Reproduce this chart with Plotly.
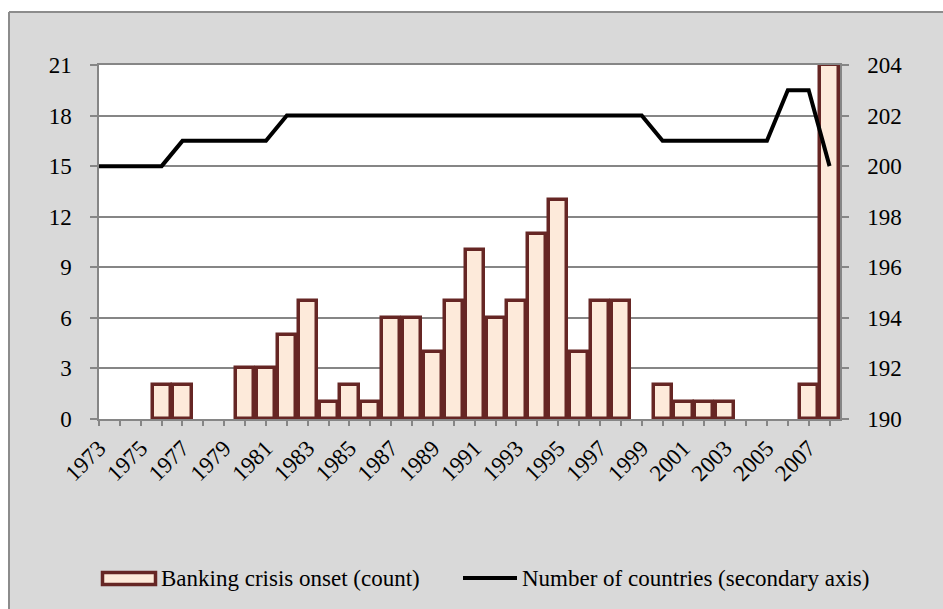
import plotly.graph_objects as go

years = list(range(1973, 2009))
crisis_onsets = [0, 0, 0, 2, 2, 0, 0, 3, 3, 5, 7, 1, 2, 1, 6, 6, 4, 7, 10, 6,
                 7, 11, 13, 4, 7, 7, 0, 2, 1, 1, 1, 0, 0, 0, 2, 21]
num_countries = [200, 200, 200, 200, 201, 201, 201, 201, 201, 202, 202, 202,
                 202, 202, 202, 202, 202, 202, 202, 202, 202, 202, 202, 202,
                 202, 202, 202, 201, 201, 201, 201, 201, 201, 203, 203, 200]
x_tick_labels = [str(y) if (y - 1973) % 2 == 0 else "" for y in years]
left_ticks = [0, 3, 6, 9, 12, 15, 18, 21]
right_ticks = [190, 192, 194, 196, 198, 200, 202, 204]

bar_name = "Banking crisis onset (count)"
line_name = "Number of countries (secondary axis)"

FONT = "Liberation Serif"
GRID = "#868686"
BAR_FILL = "#FDEADA"
BAR_LINE = "#662624"
BG = "#D9D9D9"

W, H = 943, 609
L, R, T, B = 99, 103, 65, 190
PW, PH = W - L - R, H - T - B


def px(x):
    return (x - L) / PW


def py(y):
    return (H - B - y) / PH


# zero counts draw no bar (as in the source chart)
bar_values = [v if v > 0 else None for v in crisis_onsets]

fig = go.Figure()
fig.add_trace(go.Bar(
    x=years, y=bar_values, name=bar_name, width=0.87, cliponaxis=False,
    marker=dict(color=BAR_FILL, line=dict(color=BAR_LINE, width=3.5)),
    showlegend=False, yaxis="y"))
fig.add_trace(go.Scatter(
    x=years, y=num_countries, name=line_name, mode="lines",
    line=dict(color="black", width=4), showlegend=False, yaxis="y2"))

fig.update_layout(
    width=W, height=H,
    margin=dict(l=L, r=R, t=T, b=B, pad=0),
    paper_bgcolor=BG, plot_bgcolor="white",
    font=dict(family=FONT, size=23, color="black"),
    bargap=0,
    xaxis=dict(
        range=[1973, 2008.5], tickmode="array", tickvals=years,
        ticktext=x_tick_labels, tickangle=-45, ticks="outside", ticklen=5,
        tickcolor=GRID, tickwidth=1.5, showline=True, mirror=True,
        linecolor=GRID, linewidth=1.5, showgrid=False, zeroline=False,
        tickfont=dict(family=FONT, size=23, color="black")),
    yaxis=dict(
        range=[0, 21], tickmode="array", tickvals=left_ticks,
        ticks="outside", ticklen=7, tickcolor=GRID, tickwidth=1.5,
        showline=True, linecolor=GRID, linewidth=1.5, showgrid=True,
        gridcolor=GRID, gridwidth=1.5, zeroline=False, ticklabelstandoff=14,
        tickfont=dict(family=FONT, size=23, color="black")),
    yaxis2=dict(
        range=[190, 204], tickmode="array", tickvals=right_ticks,
        overlaying="y", side="right", ticks="outside", ticklen=7,
        tickcolor=GRID, tickwidth=1.5, showline=True, linecolor=GRID,
        linewidth=1.5, showgrid=False, zeroline=False, ticklabelstandoff=14,
        tickfont=dict(family=FONT, size=23, color="black")),
)

shapes = [
    # white strips outside the chart frame
    dict(type="rect", xref="paper", yref="paper", x0=px(0), x1=px(W),
         y0=py(0), y1=py(12), fillcolor="white", line=dict(width=0), layer="above"),
    dict(type="rect", xref="paper", yref="paper", x0=px(0), x1=px(9),
         y0=py(0), y1=py(H), fillcolor="white", line=dict(width=0), layer="above"),
    # frame lines
    dict(type="line", xref="paper", yref="paper", x0=px(9), x1=px(W + 5),
         y0=py(12), y1=py(12), line=dict(color="#8C8C8C", width=2), layer="above"),
    dict(type="line", xref="paper", yref="paper", x0=px(9), x1=px(9),
         y0=py(12), y1=py(H + 5), line=dict(color="#8C8C8C", width=2), layer="above"),
    # legend symbols
    dict(type="rect", xref="paper", yref="paper", x0=px(102.5), x1=px(155.5),
         y0=py(572.5), y1=py(584.5), fillcolor=BAR_FILL,
         line=dict(color=BAR_LINE, width=3.5), layer="above"),
    dict(type="line", xref="paper", yref="paper", x0=px(463), x1=px(517),
         y0=py(578), y1=py(578), line=dict(color="black", width=4), layer="above"),
]
fig.update_layout(shapes=shapes)

fig.add_annotation(x=px(159), y=py(578), xref="paper", yref="paper",
                   text=bar_name, showarrow=False, xanchor="left",
                   yanchor="middle", font=dict(family=FONT, size=23, color="black"))
fig.add_annotation(x=px(520), y=py(578), xref="paper", yref="paper",
                   text=line_name, showarrow=False, xanchor="left",
                   yanchor="middle", font=dict(family=FONT, size=23, color="black"))

fig.write_html("out.html")
